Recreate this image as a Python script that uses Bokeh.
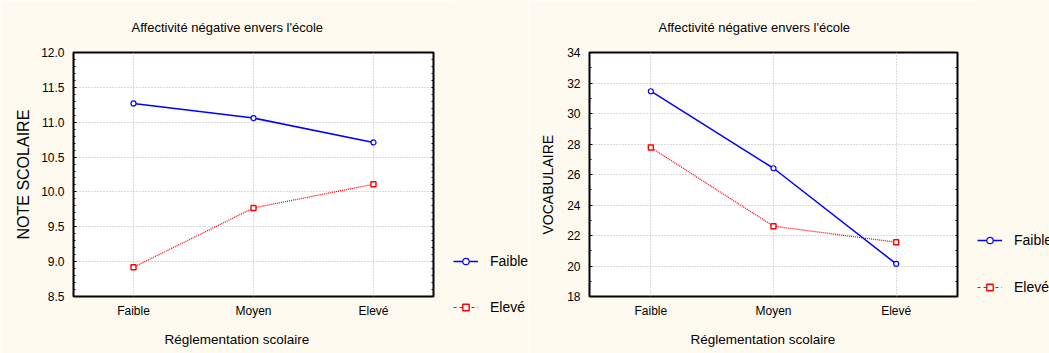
import numpy as np
from bokeh.plotting import figure
from bokeh.models import (Range1d, FixedTicker, SingleIntervalTicker, LinearAxis,
                          Title, Legend, LegendItem, NumeralTickFormatter)
from bokeh.layouts import row, column
from bokeh.embed import file_html
from bokeh.resources import INLINE

# ---------------- data ----------------
categories = ["Faible", "Moyen", "Elevé"]
series_labels = ["Faible", "Elevé"]
note_faible = [11.27, 11.06, 10.71]
note_eleve = [8.92, 9.77, 10.11]
vocab_faible = [31.46, 26.41, 20.14]
vocab_eleve = [27.77, 22.61, 21.56]
title_text = "Affectivité négative envers l'école"
x_title = "Réglementation scolaire"
y_titles = ["NOTE SCOLAIRE", "VOCABULAIRE"]

FONT = "Liberation Sans"
BG = "#FFFAF0"
BLUE = "#0000FF"
RED = "#FF0000"
H = 353

STYLE_F = dict(line_color=BLUE, line_width=1.5)
STYLE_FM = dict(marker="circle", size=5, fill_color="white", line_color=BLUE, line_width=1.2)
STYLE_E = dict(line_color=RED, line_width=1.3, line_dash="1 1")
STYLE_E_LEG = dict(line_color=RED, line_width=1.2, line_dash="3 3")
STYLE_EM = dict(marker="square", size=5, fill_color="white", line_color=RED, line_width=1.4)


def make_chart(ylabel, yf, ye, ystart, yend, interval, minor, fmt,
               frame_w, ml, mr, ylab_size, ylab_off, ylab_standoff,
               title_off, xlab_off):
    xs = list(range(len(categories)))
    p = figure(frame_width=frame_w, frame_height=244,
               min_border_left=ml, min_border_right=mr,
               min_border_top=52, min_border_bottom=57,
               x_range=Range1d(-0.5, len(categories) - 0.5),
               y_range=Range1d(ystart, yend),
               output_backend="svg", toolbar_location=None,
               background_fill_color="white", border_fill_color=BG,
               outline_line_color="black", outline_line_width=2)

    # axes
    p.xaxis.ticker = FixedTicker(ticks=xs)
    p.xaxis.major_label_overrides = {i: c for i, c in enumerate(categories)}
    p.xaxis.axis_line_color = None
    p.xaxis.major_tick_in = 0
    p.xaxis.major_tick_out = 0
    p.xaxis.minor_tick_line_color = None
    p.xaxis.major_label_standoff = 7
    p.xaxis.major_label_text_font = FONT
    p.xaxis.major_label_text_font_size = "12px"
    p.xaxis.major_label_text_color = "black"

    p.yaxis.ticker = SingleIntervalTicker(interval=interval, num_minor_ticks=minor)
    p.yaxis.formatter = NumeralTickFormatter(format=fmt)
    p.yaxis.axis_line_color = None
    p.yaxis.major_tick_in = 3
    p.yaxis.major_tick_out = 0
    p.yaxis.minor_tick_in = 2
    p.yaxis.minor_tick_out = 0
    p.yaxis.major_label_standoff = 9
    p.yaxis.major_label_text_font = FONT
    p.yaxis.major_label_text_font_size = "12px"
    p.yaxis.major_label_text_color = "black"

    # mirrored tick marks on the right border (no labels)
    mirror = list(np.arange(ystart, yend + 1e-9, interval / minor))
    ra = LinearAxis(ticker=FixedTicker(ticks=[], minor_ticks=mirror),
                    axis_line_color=None, major_tick_in=0, major_tick_out=0,
                    minor_tick_in=2, minor_tick_out=0, major_label_standoff=0)
    p.add_layout(ra, "right")

    # grids
    for g in (p.xgrid, p.ygrid):
        g.grid_line_color = "#b4b4b4"
        g.grid_line_dash = "1 2"
        g.grid_line_width = 1

    # series
    p.line(xs, yf, **STYLE_F)
    p.scatter(xs, yf, **STYLE_FM)
    p.line(xs, ye, **STYLE_E)
    p.scatter(xs, ye, **STYLE_EM)

    p.add_layout(Title(text=title_text, align="left", offset=title_off, standoff=35,
                       text_font=FONT, text_font_size="13px", text_font_style="normal",
                       text_color="black"), "above")
    p.add_layout(Title(text=x_title, align="left", offset=xlab_off, standoff=18,
                       text_font=FONT, text_font_size="13.5px", text_font_style="normal",
                       text_color="black"), "below")
    p.add_layout(Title(text=ylabel, align="left", offset=ylab_off, standoff=ylab_standoff,
                       text_font=FONT, text_font_size=ylab_size, text_font_style="normal",
                       text_color="black"), "left")
    return p


def make_legend(width, legend_y, leg_spacing):
    q = figure(width=width, height=H, min_border=0,
               x_range=Range1d(0, 1), y_range=Range1d(0, 1),
               x_axis_type=None, y_axis_type=None,
               output_backend="svg", toolbar_location=None,
               background_fill_color=BG, border_fill_color=BG,
               outline_line_color=None)
    q.xgrid.visible = False
    q.ygrid.visible = False
    nan = [float("nan")]
    r1 = q.line(nan, nan, **STYLE_F)
    s1 = q.scatter(nan, nan, **STYLE_FM)
    r2 = q.line(nan, nan, **STYLE_E_LEG)
    s2 = q.scatter(nan, nan, **STYLE_EM)
    legend = Legend(items=[LegendItem(label=series_labels[0], renderers=[r1, s1]),
                           LegendItem(label=series_labels[1], renderers=[r2, s2])],
                    location=(0, legend_y), padding=0, margin=0,
                    border_line_color=None, background_fill_alpha=0,
                    glyph_width=25, glyph_height=16, label_height=16,
                    label_standoff=12, spacing=leg_spacing,
                    label_text_font=FONT, label_text_font_size="14px",
                    label_text_color="black")
    q.add_layout(legend)
    return q


p1 = make_chart(y_titles[0], note_faible, note_eleve, 8.5, 12.0, 0.5, 5, "0.0",
                360, 73, 20, "16px", 57, 13, 58, 91)
l1 = make_legend(75, 38, 30)
p2 = make_chart(y_titles[1], vocab_faible, vocab_eleve, 18, 34, 2, 2, "0",
                368, 59, 20, "14px", 62, 18, 69, 101)
l2 = make_legend(74, 58, 31)

layout = row(p1, column(l1), p2, column(l2), spacing=0)
open("out.html", "w").write(file_html(layout, INLINE))
